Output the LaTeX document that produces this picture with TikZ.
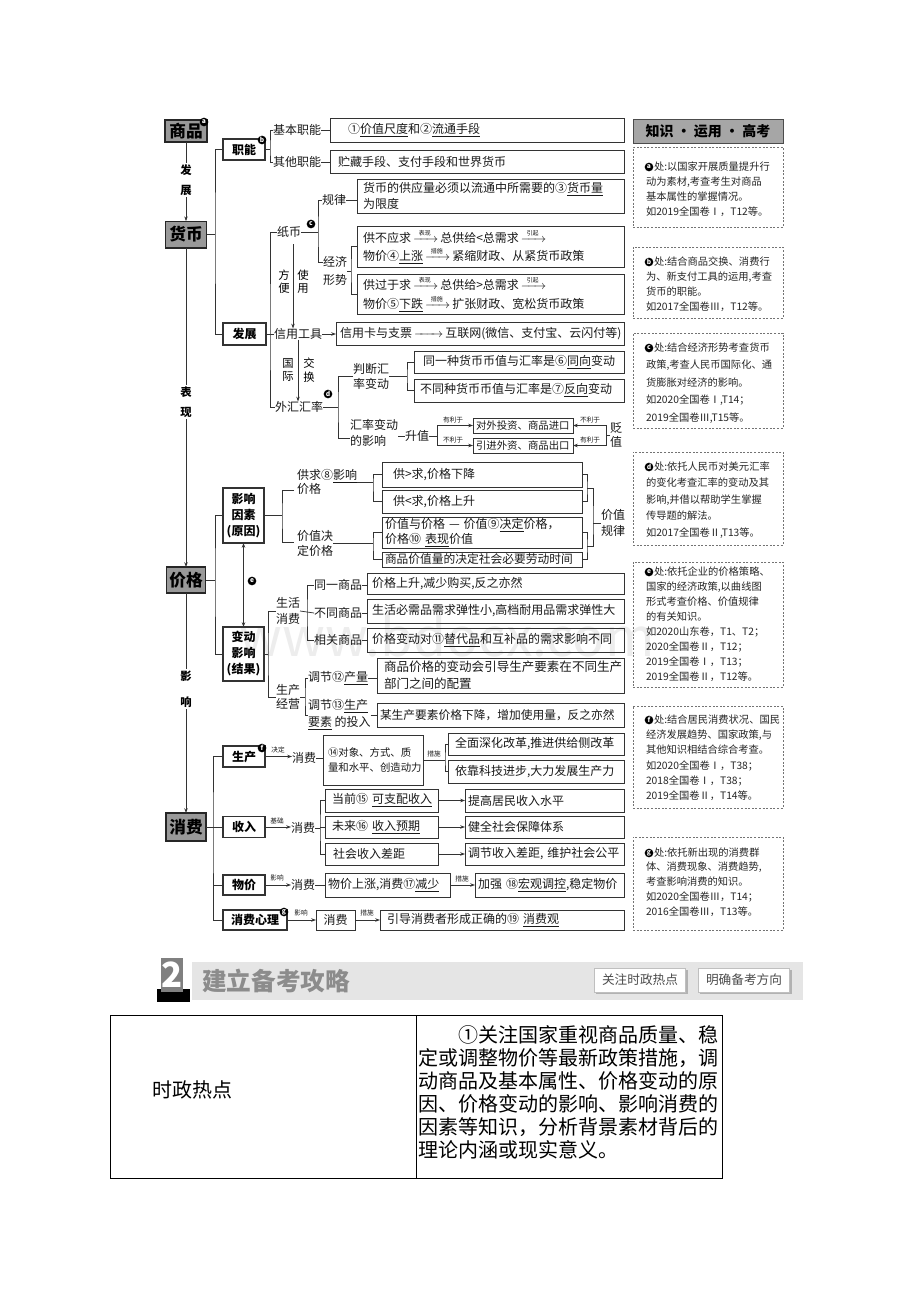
\documentclass[tikz,border=0pt]{standalone}
\usepackage{amsmath}
\usepackage{fontspec}
\setmainfont{Noto Sans CJK SC}
\usetikzlibrary{arrows.meta}
\newcommand\lar[1]{\,$\xrightarrow{\makebox[13pt]{\fontsize{4.5}{5}\selectfont #1}}$\,}
\newcommand\Bx[8][]{\node[bx,anchor=north west,inner ysep=0pt,inner xsep={(#7)*0.75pt},text width={(#5-#3-2*(#7))*0.75pt},minimum height={(#6-#4)*0.75pt},align=left,#1] (#2) at (#3,#4) {#8};}
\tikzset{
 every node/.style={inner sep=0pt, outer sep=0pt},
 ln/.style={line width=0.55pt, draw=black!80},
 arr/.style={ln, -{Stealth[length=3.6pt, width=2.6pt]}},
 dar/.style={ln, {Stealth[length=3.6pt, width=2.6pt]}-{Stealth[length=3.6pt, width=2.6pt]}},
 bx/.style={draw=black!80, line width=0.7pt, font=\fontsize{9}{11.5}\selectfont, text=black!90},
 t/.style={font=\fontsize{9}{11.5}\selectfont, text=black!90},
 sm/.style={font=\fontsize{5}{6}\selectfont, text=black!90},
 main/.style={draw=black!85, line width=1pt, fill=black!40, font=\fontsize{12.5}{14}\selectfont\bfseries},
 sbx/.style={draw=black!80, line width=0.8pt, minimum width=31.5pt, minimum height=15.75pt, font=\fontsize{9}{12}\selectfont\bfseries},
 cl/.style={circle, fill=black, text=white, minimum size=6.5pt, font=\fontsize{5}{5}\selectfont\bfseries},
 lab/.style={fill=white, align=center, inner sep=1pt, font=\fontsize{8.5}{15}\selectfont\bfseries},
 lab2/.style={align=center, font=\fontsize{8.5}{10}\selectfont},
 side/.style={draw=black!55, dash pattern=on 1.5pt off 1.2pt, line width=0.5pt},
 st/.style={align=left, text=black!85},
}
\begin{document}
\begin{tikzpicture}[x=0.75pt,y=-0.75pt]
\useasboundingbox (0,0) rectangle (920,1302);
\fill[white] (0,0) rectangle (920,1302);
\node[font=\fontsize{40}{40}\selectfont, text=black!7] (wm) at (447,636) {www.bdocx.com};

% ---------------- spine
\node[main, minimum width=31.5pt, minimum height=16.5pt] (sp) at (186,131) {商品};
\node[cl] (ca) at (204,122) {a};
\node[main, minimum width=30.75pt, minimum height=20pt] (hb) at (186,234.5) {货币};
\node[main, minimum width=29.25pt, minimum height=19.5pt] (jg) at (186,580) {价格};
\node[main, minimum width=30pt, minimum height=21pt] (xf) at (186,827) {消费};
\draw[arr] (sp.south) -- (hb.north);
\draw[arr] (hb.south) -- (jg.north);
\draw[arr] (jg.south) -- (xf.north);
\node[lab] (l1) at (186,180) {发\\展};
\node[lab] (l2) at (186,402) {表\\现};
\node[lab, font=\fontsize{8.5}{19.5}\selectfont\bfseries] (l3) at (186,689) {影\\响};

% ---------------- 货币 branch
\node[sbx] (zn) at (244,149.5) {职能};
\node[cl] (cb) at (262,140) {b};
\node[sbx, minimum width=32.25pt, minimum height=16.5pt] (fz) at (244.5,334) {发展};
\draw[ln] (hb.east) -- (215,234.5);
\draw[ln] (zn.west) -| (215,234.5) |- (fz.west);

\node[t] (jb) at (297,130) {基本职能};
\node[t] (qt) at (297,162) {其他职能};
\draw[ln] (zn.east) -- (270,149.5);
\draw[ln] (jb.west) -| (270,149.5) |- (qt.west);
\Bx{b1}{330}{118}{624}{142}{18}{①\underline{价值尺度}和②\underline{流通手段}}
\Bx{b2}{330}{150}{624}{173}{8}{贮藏手段、支付手段和世界货币}
\draw[ln] (jb.east) -- (jb.east -| b1.west);
\draw[ln] (qt.east) -- (qt.east -| b2.west);

\node[t] (zb) at (289,232) {纸币};
\node[cl] (cc) at (311,224) {c};
\node[t] (xy) at (298,334) {信用工具};
\node[t] (wh) at (299,407) {外汇汇率};
\draw[ln] (zb.west) -| (270,334) |- (wh.west);
\draw[ln] (fz.east) -- (xy.west);
\draw[arr] ([xshift=3pt,yshift=-5pt]zb.south) -- ([xshift=3pt]zb.south |- xy.north);
\node[lab2] (fb) at (284,282) {方\\便};
\node[lab2] (sy) at (303,282) {使\\用};
\draw[arr] (xy.south) -- (xy.south |- wh.north);
\node[lab2] (gj) at (288,370) {国\\际};
\node[lab2] (jh) at (309,370) {交\\换};
\Bx{xyk}{336}{322}{624}{345}{4}{信用卡与支票\,$\xrightarrow{\hspace{16pt}}$\,互联网(微信、支付宝、云闪付等)}
\draw[arr] (xy.east) -- (xy.east -| xyk.west);

\node[t] (gl) at (334,200) {规律};
\node[t, align=left, font=\fontsize{9}{13.5}\selectfont] (jj) at (335,271) {经济\\形势};
\draw[ln] (zb.east) -- (318,232);
\draw[ln] (gl.west) -| (318,232) |- (323,262);
\Bx{glb}{357}{179}{624}{213}{6}{货币的供应量必须以流通中所需要的③\underline{货币量}\\为限度}
\draw[ln] (gl.east) -- (gl.east -| glb.west);
\Bx[font=\fontsize{9}{14}\selectfont]{ba}{357}{226}{624}{267}{6}{供不应求\lar{表现}总供给<总需求\lar{引起}\\物价④\underline{上涨}\lar{措施}紧缩财政、从紧货币政策}
\Bx[font=\fontsize{9}{14}\selectfont]{bb}{357}{274}{624}{314}{6}{供过于求\lar{表现}总供给>总需求\lar{引起}\\物价⑤\underline{下跌}\lar{措施}扩张财政、宽松货币政策}
\draw[ln] (jj.east) -- (351,271);
\draw[ln] (ba.west) -| (351,271) |- (bb.west);

\node[cl] (cd) at (328,394) {d};
\node[t, align=left, font=\fontsize{9}{11.25}\selectfont] (pd) at (371,376) {判断汇\\率变动};
\node[t, align=left, font=\fontsize{9}{12}\selectfont] (hl) at (374,433) {汇率变动\\的影响};
\draw[ln] (wh.east) -- (338,407);
\draw[ln] (pd.west) -| (338,407) |- ([yshift=-3.75pt]hl.west);
\Bx{b6}{414}{351}{624}{373}{9}{同一种货币币值与汇率是⑥\underline{同向}变动}
\Bx{b7}{414}{379}{624}{402}{6}{不同种货币币值与汇率是⑦\underline{反向}变动}
\draw[ln] (pd.east) -- (407,376);
\draw[ln] (b6.west) -| (407,376) |- (b7.west);

\node[t] (sz) at (417,436) {升值};
\draw[ln] (hl.east |- sz.west) -- (sz.west);
\Bx[font=\fontsize{7.8}{9}\selectfont]{f1}{473}{418}{573}{433}{3}{对外投资、商品进口}
\Bx[font=\fontsize{7.8}{9}\selectfont]{f2}{473}{438}{573}{453}{3}{引进外资、商品出口}
\draw[ln] (sz.east) -- (437,436);
\draw[arr] (437,436) |- (f1.west);
\draw[arr] (437,436) |- (f2.west);
\node[sm] (y1a) at (453,420) {有利于};
\node[sm] (n1a) at (453,440) {不利于};
\node[t, align=center, font=\fontsize{9}{10.5}\selectfont] (bz) at (616,435) {贬\\值};
\draw[ln] (bz.west) -- (606,435);
\draw[arr] (606,435) |- (f1.east);
\draw[arr] (606,435) |- (f2.east);
\node[sm] (n1b) at (590,420) {不利于};
\node[sm] (y1b) at (590,440) {有利于};

% ---------------- 价格 branch
\node[sbx, minimum width=30.75pt, minimum height=41.25pt, align=center, font=\fontsize{9}{12}\selectfont\bfseries] (yx) at (243.5,515.5) {影响\\因素\\(原因)};
\node[sbx, minimum width=30.75pt, minimum height=40.5pt, align=center, font=\fontsize{9}{12}\selectfont\bfseries] (bd) at (243.5,654) {变动\\影响\\(结果)};
\draw[ln] (jg.east) -- (215,580);
\draw[ln] (yx.west) -| (215,580) |- (bd.west);
\draw[dar] (yx.south) -- (bd.north);
\node[cl] (ce) at (252,581) {e};

\node[t, align=left, font=\fontsize{9}{10.5}\selectfont] (gq) at (327,482) {供求⑧\underline{影响}\\价格};
\node[t, align=left, font=\fontsize{9}{11.25}\selectfont] (jd) at (315,543) {价值决\\定价格};
\draw[ln] (yx.east) -- (282,515.5);
\draw[ln] (294,490) -| (282,515.5) |- (294,542);
\Bx{gt}{382}{462}{582}{487}{11}{供>求,价格下降}
\Bx{lt}{382}{490}{582}{513}{11}{供<求,价格上升}
\Bx[font=\fontsize{9}{11.5}\selectfont]{jy}{382}{517}{582}{548}{3}{价值与价格 — 价值⑨\underline{决定}价格，\\价格⑩~\underline{表现}价值}
\Bx[font=\fontsize{8.8}{10}\selectfont]{sp2}{382}{552}{582}{567}{3}{商品价值量的决定社会必要劳动时间}
\draw[ln] (gq.east) -- (373,482);
\draw[ln] (gt.west) -| (373,482) |- (lt.west);
\draw[ln] (jd.east) -- (373,543);
\draw[ln] (jy.west) -| (373,543) |- (sp2.west);
\draw[ln] (gt.east) -| (587,488) |- (lt.east);
\draw[ln] (jy.east) -| (587,546) |- (sp2.east);
\draw[ln] (587,488) -| (593,523) |- (587,546);
\node[t, align=center, font=\fontsize{9}{12}\selectfont] (jzgl) at (613,523) {价值\\规律};
\draw[ln] (593,523) -- (jzgl.west);

\node[t, align=center, font=\fontsize{9}{12}\selectfont] (shxf) at (288,611) {生活\\消费};
\node[t, align=center, font=\fontsize{9}{10}\selectfont] (scjy) at (288,697) {生产\\经营};
\draw[ln] (bd.east) -- (268,654);
\draw[ln] (shxf.west) -| (268,654) |- (scjy.west);
\node[t] (ty) at (338,585) {同一商品};
\node[t] (bt) at (338,613) {不同商品};
\node[t] (xg) at (338,640) {相关商品};
\draw[ln] (ty.west) -| (307,613) |- (xg.west);
\draw[ln] (shxf.east) -- (bt.west);
\Bx{c1}{367}{573}{624}{594}{5}{价格上升,减少购买,反之亦然}
\Bx{c2}{367}{599}{624}{623}{5}{生活必需品需求弹性小,高档耐用品需求弹性大}
\Bx{c3}{367}{628}{624}{652}{5}{价格变动对⑪\underline{替代品}和互补品的需求影响不同}
\draw[ln] (ty.east) -- (ty.east -| c1.west);
\draw[ln] (bt.east) -- (bt.east -| c2.west);
\draw[ln] (xg.east) -- (xg.east -| c3.west);

\node[t, anchor=west] (tj1) at (308,678) {调节⑫\underline{产量}};
\node[t, anchor=west, align=left, font=\fontsize{9}{12.75}\selectfont] (tj2) at (308,715) {调节⑬\underline{生产}\\\underline{要素}\ 的投入};
\draw[ln] (tj1.west) -| (305,697) |- (tj2.west);
\draw[ln] (scjy.east) -- (305,697);
\Bx[font=\fontsize{9.4}{13}\selectfont]{c4}{377}{658}{624}{693}{7}{商品价格的变动会引导生产要素在不同生产\\部门之间的配置}
\Bx[font=\fontsize{8.8}{11}\selectfont]{c5}{377}{703}{624}{727}{3}{某生产要素价格下降，增加使用量，反之亦然}
\draw[ln] (tj1.east) -- (tj1.east -| c4.west);
\draw[ln] (tj2.east) -- (tj2.east -| c5.west);

% ---------------- 消费 branch
\node[sbx] (sc) at (244,756.5) {生产};
\node[cl] (cf) at (262,748) {f};
\node[sbx] (sr) at (244,827) {收入};
\node[sbx, minimum height=15pt] (wj) at (244,885) {物价};
\node[sbx, minimum width=48pt, minimum height=15pt] (xl) at (255,920) {消费心理};
\node[cl] (cg) at (284,912) {g};
\draw[ln] (xf.east) -- (213,827);
\draw[ln] (sc.west) -| (213,827) |- (xl.west);
\draw[ln] (sr.west) -- (213,827);
\draw[ln] (wj.west) -- (213,885);

\node[t] (x1) at (304,758) {消费};
\draw[arr] (sc.east) -- (sc.east -| x1.west);
\node[sm] (jd1) at (278,750) {决定};
\Bx[font=\fontsize{7.8}{11.25}\selectfont]{b14}{323}{735}{423}{785}{5}{⑭对象、方式、质\\量和水平、创造动力}
\draw[ln] (x1.east) -- (x1.east -| b14.west);
\node[sm] (cs1) at (434,754) {措施};
\Bx{q1}{448}{733}{624}{755}{7}{全面深化改革,推进供给侧改革}
\Bx{q2}{448}{760}{624}{783}{7}{依靠科技进步,大力发展生产力}
\draw[ln] (b14.east) -- (445,760);
\draw[ln] (q1.west) -| (445,760) |- (q2.west);

\node[t] (x2) at (303,828) {消费};
\draw[arr] (sr.east) -- (sr.east -| x2.west);
\node[sm] (jc) at (277,821) {基础};
\Bx{d1}{325}{789}{438}{812}{7}{当前⑮~\underline{可支配收入}}
\Bx{d2}{325}{816}{438}{838}{7}{未来⑯~\underline{收入预期}}
\Bx{d3}{325}{843}{438}{865}{8}{社会收入差距}
\draw[ln] (x2.east) -- (320,828);
\draw[ln] (d1.west) -| (320,828) |- (d3.west);
\draw[ln] (d2.west) -- (320,827);
\Bx{e1}{465}{789}{624}{812}{3}{提高居民收入水平}
\Bx{e2}{465}{816}{624}{838}{3}{健全社会保障体系}
\Bx{e3}{465}{843}{624}{865}{3}{调节收入差距,~维护社会公平}
\draw[arr] (d1.east) -- (e1.west);
\draw[arr] (d2.east) -- (e2.west);
\draw[arr] (d3.east) -- (e3.west);

\node[t] (x3) at (303,885) {消费};
\draw[arr] (wj.east) -- (x3.west);
\node[sm] (yx1) at (277,878) {影响};
\Bx{w1}{325}{873}{450}{897}{3}{物价上涨,消费⑰\underline{减少}}
\draw[ln] (x3.east) -- (w1.west);
\Bx{w2}{475}{873}{624}{897}{3}{加强~⑱\underline{宏观调控},稳定物价}
\draw[arr] (w1.east) -- (w2.west);
\node[sm] (cs2) at (462,879) {措施};

\Bx[align=center]{x4}{316}{910}{355}{930}{0}{消费}
\draw[arr] (xl.east) -- (x4.west);
\node[sm] (yx2) at (301,913) {影响};
\Bx{y1}{380}{910}{624}{930}{7}{引导消费者形成正确的⑲~\underline{消费观}}
\draw[arr] (x4.east) -- (y1.west);
\node[sm] (cs3) at (367,913) {措施};

% ---------------- sidebar
\node[draw=black!70, fill=black!35, line width=0.7pt, minimum width=112.5pt, minimum height=18pt, font=\fontsize{10.5}{12}\selectfont\bfseries] (hd) at (708,131) {知识 · 运用 · 高考};

\node[side, anchor=north west, minimum width=112.5pt, minimum height={(227-147)*0.75pt}] (sa) at (633,147) {};
\node[st, anchor=north west, font=\fontsize{7.7}{11.25}\selectfont] (ta) at (646,161.5) {\hspace{6pt}处:以国家开展质量提升行\\动为素材,考查考生对商品\\基本属性的掌握情况。\\如2019全国卷Ⅰ，T12等。};
\node[cl] (ka) at (649,167) {a};

\node[side, anchor=north west, minimum width=112.5pt, minimum height={(318-247)*0.75pt}] (sbb) at (633,247) {};
\node[st, anchor=north west, font=\fontsize{7.7}{11.25}\selectfont] (tb) at (646,256.5) {\hspace{6pt}处:结合商品交换、消费行\\为、新支付工具的运用,考查\\货币的职能。\\如2017全国卷Ⅲ，T12等。};
\node[cl] (kb) at (649,262) {b};

\node[side, anchor=north west, minimum width=112.5pt, minimum height={(428-333)*0.75pt}] (scc) at (633,333) {};
\node[st, anchor=north west, font=\fontsize{7.7}{13.1}\selectfont] (tc) at (646,342.5) {\hspace{6pt}处:结合经济形势考查货币\\政策,考查人民币国际化、通\\货膨胀对经济的影响。\\如2020全国卷Ⅰ,T14；\\2019全国卷Ⅲ,T15等。};
\node[cl] (kc) at (649,348) {c};

\node[side, anchor=north west, minimum width=112.5pt, minimum height={(545-452)*0.75pt}] (sdd) at (633,452) {};
\node[st, anchor=north west, font=\fontsize{7.7}{12.4}\selectfont] (td) at (646,461.5) {\hspace{6pt}处:依托人民币对美元汇率\\的变化考查汇率的变动及其\\影响,并借以帮助学生掌握\\传导题的解法。\\如2017全国卷Ⅱ,T13等。};
\node[cl] (kd) at (649,467) {d};

\node[side, anchor=north west, minimum width=112.5pt, minimum height={(687-562)*0.75pt}] (see) at (633,562) {};
\node[st, anchor=north west, font=\fontsize{7.7}{11.25}\selectfont] (te) at (646,566.5) {\hspace{6pt}处:依托企业的价格策略、\\国家的经济政策,以曲线图\\形式考查价格、价值规律\\的有关知识。\\如2020山东卷，T1、T2；\\2020全国卷Ⅱ，T12；\\2019全国卷Ⅰ，T13；\\2019全国卷Ⅱ，T12等。};
\node[cl] (ke) at (649,572) {e};

\node[side, anchor=north west, minimum width=112.5pt, minimum height={(808-706)*0.75pt}] (sff) at (633,706) {};
\node[st, anchor=north west, font=\fontsize{7.7}{11.5}\selectfont] (tf) at (646,714.5) {\hspace{6pt}处:结合居民消费状况、国民\\经济发展趋势、国家政策,与\\其他知识相结合综合考查。\\如2020全国卷Ⅰ，T38；\\2018全国卷Ⅰ，T38；\\2019全国卷Ⅱ，T14等。};
\node[cl] (kf) at (649,720) {f};

\node[side, anchor=north west, minimum width=112.5pt, minimum height={(930-837)*0.75pt}] (sgg) at (633,837) {};
\node[st, anchor=north west, font=\fontsize{7.7}{11.1}\selectfont] (tg) at (646,847.5) {\hspace{6pt}处:依托新出现的消费群\\体、消费现象、消费趋势,\\考查影响消费的知识。\\如2020全国卷Ⅲ，T14；\\2016全国卷Ⅲ，T13等。};
\node[cl] (kg) at (649,853) {g};

% ---------------- banner
\fill[black!10] (192,962) rectangle (803,1000);
\fill[black] (157,989) rectangle (190,1002);
\node[fill=black!50, minimum width=15.75pt, minimum height=26pt, text=white, font=\fontsize{26}{26}\selectfont\bfseries] (n2) at (172,975) {2};
\node[text=black!45, font=\fontsize{18.5}{20}\selectfont\bfseries] (jl) at (276,981) {建立备考攻略};
\fill[black!30] (596,970) rectangle (688,994);
\node[draw=black!25, fill=white, minimum width=68.25pt, minimum height=18pt, font=\fontsize{9.5}{10}\selectfont, text=black!70] (bt1) at (640,980) {关注时政热点};
\fill[black!30] (700,970) rectangle (792,994);
\node[draw=black!25, fill=white, minimum width=68.25pt, minimum height=18pt, font=\fontsize{9.5}{10}\selectfont, text=black!70] (bt2) at (744,980) {明确备考方向};

% ---------------- table
\draw[line width=0.6pt] (110,1015) rectangle (722,1178);
\draw[line width=0.6pt] (416,1015) -- (416,1178);
\node[font=\fontsize{15}{18}\selectfont] (szrd) at (192,1090) {时政热点};
\node[anchor=north west, align=left, font=\fontsize{15}{17.25}\selectfont] (rtxt) at (418,1026) {\hspace{30pt}①关注国家重视商品质量、稳\\定或调整物价等最新政策措施，调\\动商品及基本属性、价格变动的原\\因、价格变动的影响、影响消费的\\因素等知识，分析背景素材背后的\\理论内涵或现实意义。};
\end{tikzpicture}
\end{document}
